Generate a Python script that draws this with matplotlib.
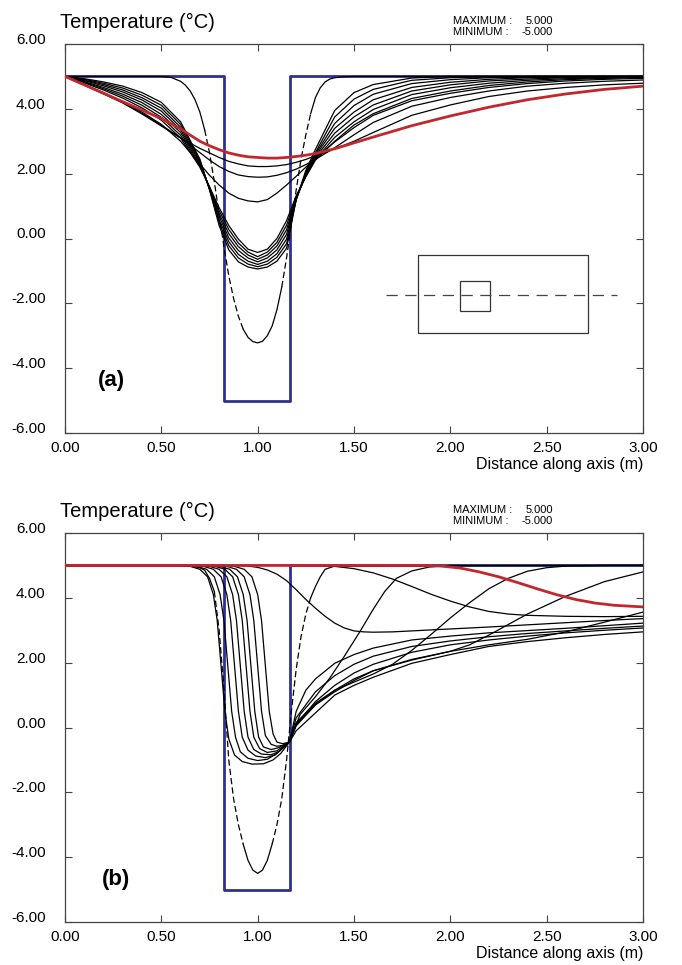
import matplotlib.pyplot as plt
from matplotlib.patches import Rectangle

plt.rcParams['font.family'] = ['Liberation Sans', 'DejaVu Sans']

# ---------------- panel (a) data ----------------
well_x = [0.0, 0.825, 0.825, 1.17, 1.17, 3.0]
well_y = [5.0, 5.0, -5.0, -5.0, 5.0, 5.0]

a_c1_x = [0, 0.5, 0.55, 0.6, 0.625, 0.65, 0.675, 0.7, 0.725, 0.75, 0.775, 0.8, 0.825, 0.85,
          0.875, 0.9, 0.925, 0.95, 0.975, 1.0, 1.025, 1.05, 1.075, 1.1, 1.125, 1.15, 1.175,
          1.2, 1.225, 1.25, 1.275, 1.3, 1.325, 1.35, 1.375, 1.4, 1.45, 1.5, 3.0]
a_c1_y = [5, 5, 4.97, 4.85, 4.73, 4.55, 4.28, 3.9, 3.35, 2.65, 1.75, 0.75, -0.25, -1.15,
          -1.85, -2.4, -2.8, -3.05, -3.18, -3.22, -3.17, -3.0, -2.7, -2.2, -1.5, -0.6, 0.45,
          1.5, 2.45, 3.2, 3.85, 4.35, 4.65, 4.83, 4.92, 4.96, 4.99, 5.0, 5.0]

xa = [0, 0.1, 0.2, 0.3, 0.4, 0.5, 0.6, 0.7, 0.75, 0.8, 0.85, 0.9, 0.95, 1.0, 1.05, 1.1,
      1.15, 1.2, 1.25, 1.3, 1.4, 1.5, 1.6, 1.8, 2.0, 2.2, 2.4, 2.6, 2.8, 3.0]

a_d1 = [5, 4.93, 4.83, 4.70, 4.50, 4.20, 3.60, 2.45, 1.50, 0.40, -0.35, -0.72, -0.88, -0.94,
        -0.88, -0.70, -0.30, 1.20, 2.10, 2.75, 3.95, 4.50, 4.75, 4.95, 5.0, 5.0, 5.0, 5.0, 5.0, 5.0]
a_d2 = [5, 4.91, 4.79, 4.64, 4.42, 4.11, 3.52, 2.41, 1.52, 0.49, -0.22, -0.60, -0.79, -0.87,
        -0.79, -0.58, -0.16, 1.20, 2.05, 2.65, 3.75, 4.30, 4.60, 4.88, 4.96, 4.99, 5.0, 5.0, 5.0, 5.0]
a_d3 = [5, 4.89, 4.75, 4.58, 4.34, 4.02, 3.43, 2.37, 1.53, 0.58, -0.10, -0.49, -0.70, -0.80,
        -0.70, -0.47, -0.02, 1.20, 2.00, 2.60, 3.55, 4.10, 4.45, 4.78, 4.90, 4.96, 4.98, 4.99, 5.0, 5.0]
a_d4 = [5, 4.87, 4.71, 4.52, 4.27, 3.93, 3.35, 2.33, 1.55, 0.68, 0.02, -0.37, -0.60, -0.72,
        -0.60, -0.35, 0.13, 1.22, 1.97, 2.55, 3.40, 3.90, 4.28, 4.66, 4.82, 4.91, 4.96, 4.98, 4.99, 5.0]
a_d5 = [5, 4.84, 4.66, 4.45, 4.19, 3.83, 3.27, 2.28, 1.57, 0.77, 0.15, -0.25, -0.51, -0.64,
        -0.51, -0.23, 0.27, 1.25, 1.95, 2.50, 3.25, 3.75, 4.12, 4.55, 4.74, 4.86, 4.92, 4.96, 4.98, 4.99]
a_d6 = [5, 4.82, 4.62, 4.39, 4.11, 3.74, 3.18, 2.24, 1.58, 0.86, 0.28, -0.14, -0.42, -0.56,
        -0.42, -0.12, 0.41, 1.28, 1.93, 2.45, 3.12, 3.60, 3.98, 4.44, 4.65, 4.79, 4.88, 4.93, 4.96, 4.98]
a_d7 = [5, 4.80, 4.58, 4.33, 4.03, 3.65, 3.10, 2.20, 1.60, 0.95, 0.40, -0.02, -0.33, -0.43,
        -0.33, 0.00, 0.55, 1.32, 1.90, 2.42, 3.00, 3.50, 3.85, 4.32, 4.55, 4.72, 4.83, 4.90, 4.94, 4.97]
a_e1 = [5, 4.75, 4.50, 4.22, 3.90, 3.52, 3.00, 2.30, 1.95, 1.65, 1.40, 1.24, 1.16, 1.13,
        1.20, 1.40, 1.65, 1.92, 2.20, 2.48, 2.98, 3.42, 3.80, 4.25, 4.48, 4.66, 4.78, 4.86, 4.91, 4.94]
a_e2 = [5, 4.74, 4.48, 4.20, 3.86, 3.50, 3.10, 2.65, 2.42, 2.22, 2.07, 1.96, 1.91, 1.89,
        1.90, 1.95, 2.03, 2.14, 2.28, 2.44, 2.80, 3.20, 3.58, 4.08, 4.35, 4.55, 4.70, 4.79, 4.85, 4.89]
a_e3 = [5, 4.73, 4.46, 4.18, 3.84, 3.47, 3.10, 2.78, 2.64, 2.50, 2.38, 2.30, 2.24, 2.22,
        2.22, 2.24, 2.28, 2.35, 2.44, 2.55, 2.76, 3.00, 3.27, 3.80, 4.12, 4.38, 4.55, 4.66, 4.74, 4.79]
a_final = [5, 4.74, 4.48, 4.22, 3.96, 3.70, 3.38, 3.00, 2.86, 2.74, 2.64, 2.57, 2.52, 2.50,
           2.48, 2.48, 2.50, 2.53, 2.57, 2.62, 2.77, 2.95, 3.13, 3.48, 3.78, 4.05, 4.28, 4.46, 4.60, 4.70]
a_black = [a_d1, a_d2, a_d3, a_d4, a_d5, a_d6, a_d7, a_e1, a_e2, a_e3]

# ---------------- panel (b) data ----------------
b_c1_x = [0, 0.6, 0.65, 0.7, 0.725, 0.75, 0.775, 0.8, 0.825, 0.85, 0.875, 0.9, 0.925, 0.95,
          0.975, 1.0, 1.025, 1.05, 1.075, 1.1, 1.125, 1.15, 1.175, 1.2, 1.225, 1.25, 1.275,
          1.3, 1.325, 1.35, 1.4, 3.0]
b_c1_y = [5, 5, 4.98, 4.93, 4.85, 4.6, 4.2, 3.0, 1.2, -1.0, -2.2, -3.0, -3.6, -4.1,
          -4.4, -4.5, -4.4, -4.1, -3.6, -3.0, -2.2, -1.0, 0.5, 1.8, 2.8, 3.5, 4.0,
          4.35, 4.65, 4.88, 4.98, 5.0]

b_f1_x = [0, 0.6, 0.65, 0.7, 0.74, 0.77, 0.79, 0.81, 0.83, 0.85, 0.88, 0.92, 0.97, 1.03, 1.08,
          1.12, 1.165, 1.22, 1.3, 1.375, 1.45, 1.53, 1.6, 1.66, 1.72, 1.8, 1.89, 2.0, 3.0]
b_f1_y = [5, 5, 4.97, 4.88, 4.65, 4.1, 3.3, 1.9, 0.5, -0.35, -0.85, -1.05, -1.13, -1.12, -1.0,
          -0.8, -0.45, 0.4, 0.95, 1.53, 2.2, 2.95, 3.65, 4.2, 4.6, 4.83, 4.95, 5.0, 5.0]
b_f2_x = [0, 0.635, 0.685, 0.735, 0.775, 0.805, 0.825, 0.845, 0.865, 0.885, 0.91, 0.95, 1.0,
          1.05, 1.1, 1.165, 1.2, 1.3, 1.4, 1.5, 1.6, 1.7, 1.8, 1.9, 2.0, 2.1, 2.2, 2.3, 2.4,
          2.5, 2.6, 2.8, 3.0]
b_f2_y = [5, 5, 4.97, 4.88, 4.65, 4.1, 3.3, 1.9, 0.5, -0.3, -0.75, -0.95, -1.02,
          -0.98, -0.8, -0.45, 0.15, 0.75, 1.15, 1.4, 1.65, 1.95, 2.38, 2.87, 3.38, 3.85, 4.28,
          4.6, 4.82, 4.93, 4.98, 5.0, 5.0]
b_f3_x = [0, 0.67, 0.72, 0.77, 0.81, 0.84, 0.86, 0.88, 0.9, 0.92, 0.95, 0.99, 1.04, 1.09,
          1.165, 1.2, 1.3, 1.4, 1.5, 1.6, 1.8, 2.0, 2.1, 2.2, 2.4, 2.6, 2.8, 3.0]
b_f3_y = [5, 5, 4.97, 4.88, 4.65, 4.1, 3.3, 1.9, 0.5, -0.3, -0.7, -0.88, -0.93, -0.85,
          -0.45, 0.1, 0.7, 1.1, 1.45, 1.75, 2.1, 2.35, 2.55, 2.85, 3.5, 4.05, 4.5, 4.8]
b_f4_x = [0, 0.7, 0.75, 0.8, 0.84, 0.87, 0.89, 0.91, 0.93, 0.95, 0.98, 1.02, 1.07, 1.11,
          1.165, 1.2, 1.3, 1.4, 1.5, 1.6, 1.8, 2.0, 2.2, 2.4, 2.6, 2.8, 3.0]
b_f4_y = [5, 5, 4.97, 4.88, 4.65, 4.1, 3.3, 1.9, 0.5, -0.3, -0.68, -0.82, -0.84, -0.74,
          -0.45, 0.05, 0.7, 1.15, 1.5, 1.75, 2.08, 2.35, 2.55, 2.72, 2.95, 3.25, 3.56]
b_f5_x = [0, 0.73, 0.78, 0.83, 0.87, 0.9, 0.92, 0.94, 0.96, 0.98, 1.01, 1.05, 1.1,
          1.165, 1.2, 1.25, 1.3, 1.4, 1.5, 1.6, 1.8, 2.0, 2.2, 2.4, 2.6, 2.8, 3.0]
b_f5_y = [5, 5, 4.97, 4.88, 4.65, 4.1, 3.3, 1.9, 0.5, -0.3, -0.65, -0.77, -0.72,
          -0.45, 0.5, 1.15, 1.5, 1.98, 2.25, 2.45, 2.7, 2.82, 2.92, 2.99, 3.06, 3.14, 3.22]
b_f6_x = [0, 0.755, 0.805, 0.855, 0.895, 0.925, 0.945, 0.965, 0.985, 1.005, 1.03, 1.07, 1.11,
          1.165, 1.2, 1.3, 1.4, 1.5, 1.6, 1.8, 2.0, 2.2, 2.4, 2.6, 2.8, 3.0]
b_f6_y = [5, 5, 4.97, 4.88, 4.65, 4.1, 3.3, 1.9, 0.5, -0.3, -0.6, -0.68, -0.62,
          -0.45, 0.3, 1.1, 1.6, 1.95, 2.2, 2.5, 2.67, 2.8, 2.9, 2.98, 3.06, 3.13]
b_f7_x = [0, 0.79, 0.84, 0.89, 0.93, 0.96, 0.98, 1.0, 1.02, 1.04, 1.07, 1.1, 1.13,
          1.165, 1.2, 1.3, 1.4, 1.5, 1.6, 1.8, 2.0, 2.2, 2.4, 2.6, 2.8, 3.0]
b_f7_y = [5, 5, 4.97, 4.88, 4.65, 4.1, 3.3, 1.9, 0.5, -0.25, -0.52, -0.58, -0.55,
          -0.45, 0.1, 0.8, 1.3, 1.68, 1.95, 2.32, 2.55, 2.7, 2.82, 2.92, 3.0, 3.07]
b_f8_x = [0, 0.83, 0.88, 0.93, 0.97, 1.0, 1.02, 1.04, 1.06, 1.08, 1.1, 1.13, 1.165,
          1.2, 1.3, 1.4, 1.5, 1.6, 1.8, 2.0, 2.2, 2.4, 2.6, 2.8, 3.0]
b_f8_y = [5, 5, 4.97, 4.88, 4.65, 4.1, 3.3, 1.9, 0.5, -0.2, -0.45, -0.5, -0.45,
          -0.1, 0.45, 1.0, 1.3, 1.55, 1.98, 2.25, 2.5, 2.65, 2.77, 2.87, 2.95]

b_x1_x = [0, 0.85, 0.95, 1.0, 1.05, 1.1, 1.15, 1.2, 1.25, 1.3, 1.35, 1.4, 1.45, 1.5, 1.55,
          1.6, 1.7, 1.8, 2.0, 2.2, 2.5, 2.8, 3.0]
b_x1_y = [5, 5, 4.98, 4.94, 4.86, 4.73, 4.53, 4.25, 3.95, 3.68, 3.43, 3.22, 3.07, 2.98, 2.95,
          2.94, 2.95, 2.98, 3.04, 3.1, 3.2, 3.3, 3.36]
b_x2_x = [0, 1.3, 1.4, 1.5, 1.6, 1.7, 1.8, 1.9, 2.0, 2.1, 2.2, 2.3, 2.4, 2.6, 2.8, 3.0]
b_x2_y = [5, 5, 4.97, 4.9, 4.77, 4.58, 4.35, 4.11, 3.9, 3.72, 3.58, 3.5, 3.46, 3.43, 3.42, 3.43]
b_final_x = [0, 1.85, 1.95, 2.05, 2.15, 2.25, 2.35, 2.45, 2.55, 2.65, 2.75, 2.85, 3.0]
b_final_y = [5, 5, 4.98, 4.92, 4.8, 4.65, 4.47, 4.28, 4.1, 3.95, 3.84, 3.77, 3.72]

b_black = [(b_f1_x, b_f1_y), (b_f2_x, b_f2_y), (b_f3_x, b_f3_y), (b_f4_x, b_f4_y),
           (b_f5_x, b_f5_y), (b_f6_x, b_f6_y), (b_f7_x, b_f7_y), (b_f8_x, b_f8_y),
           (b_x1_x, b_x1_y), (b_x2_x, b_x2_y)]

xticks = [0, 0.5, 1.0, 1.5, 2.0, 2.5, 3.0]
yticks = [6, 4, 2, 0, -2, -4, -6]

BLUE = '#2f3190'
RED = '#c1272d'
FRAME = '#444444'

W, H = 682, 965
fig = plt.figure(figsize=(W / 100, H / 100), dpi=100)
ax_a = fig.add_axes([65 / W, 1 - 433 / H, 578 / W, 389 / H])
ax_b = fig.add_axes([65 / W, 1 - 922 / H, 578 / W, 389 / H])


def style(ax, top_px, tag, tag_xy):
    ax.set_xlim(0, 3)
    ax.set_ylim(-6, 6)
    ax.set_xticks(xticks)
    ax.set_xticklabels(['%.2f' % v for v in xticks])
    ax.set_yticks(yticks)
    ax.set_yticklabels(['%.2f' % v for v in yticks])
    ax.tick_params(direction='in', length=5, width=0.8, top=True, right=True,
                   labelsize=11, color=FRAME, pad=6)
    ax.tick_params(axis='y', pad=14)
    for lab in ax.get_yticklabels():
        lab.set_va('baseline')
    for s in ax.spines.values():
        s.set_color(FRAME)
        s.set_linewidth(0.9)
    ax.text(tag_xy[0], tag_xy[1], tag, fontsize=16, fontweight='bold', ha='center', va='center')
    # header texts
    fig.text(60 / W, 1 - (top_px - 16) / H, 'Temperature (°C)', fontsize=14.5, va='baseline')
    fig.text(453 / W, 1 - (top_px - 20) / H, 'MAXIMUM :', fontsize=8, va='baseline')
    fig.text(553 / W, 1 - (top_px - 20) / H, '5.000', fontsize=8, va='baseline', ha='right')
    fig.text(453 / W, 1 - (top_px - 9) / H, 'MINIMUM :', fontsize=8, va='baseline')
    fig.text(553 / W, 1 - (top_px - 9) / H, '-5.000', fontsize=8, va='baseline', ha='right')
    fig.text(643 / W, 1 - (top_px + 425) / H, 'Distance along axis (m)', fontsize=11.5,
             va='baseline', ha='right')


def draw_first(ax, xs, ys, steep):
    # the first profile: steep flanks look broken (dashed) in the original plot
    cuts = [0] + steep + [len(xs) - 1]
    for i in range(len(cuts) - 1):
        seg_x = xs[cuts[i]:cuts[i + 1] + 1]
        seg_y = ys[cuts[i]:cuts[i + 1] + 1]
        if i % 2 == 1:
            ax.plot(seg_x, seg_y, color='black', lw=0.9, dashes=(5, 2.5), zorder=2)
        else:
            ax.plot(seg_x, seg_y, color='black', lw=0.9, zorder=2)


# panel (a)
ax_a.plot(well_x, well_y, color=BLUE, lw=2.0, zorder=1)
draw_first(ax_a, a_c1_x, a_c1_y, [8, 16, 24, 30])
for ys in a_black:
    ax_a.plot(xa, ys, color='black', lw=0.9, zorder=2)
ax_a.plot(xa, a_final, color=RED, lw=2.0, zorder=3)

# schematic inset (axes fraction)
ax_a.add_patch(Rectangle((0.611, 0.257), 0.294, 0.2, transform=ax_a.transAxes,
                         fill=False, ec='#333333', lw=0.9))
ax_a.add_patch(Rectangle(((460 - 65) / 578, (433 - 311) / 389), 30 / 578, 30 / 389,
                         transform=ax_a.transAxes, fill=False, ec='#333333', lw=0.9))
ax_a.plot([(386 - 65) / 578, (617 - 65) / 578], [(433 - 295) / 389] * 2,
          transform=ax_a.transAxes, color='#444444', lw=0.9, dashes=(9, 6))
style(ax_a, 44, '(a)', (0.24, -4.39))

# panel (b)
ax_b.plot(well_x, well_y, color=BLUE, lw=2.0, zorder=1)
draw_first(ax_b, b_c1_x, b_c1_y, [6, 12, 18, 26])
for xs, ys in b_black:
    ax_b.plot(xs, ys, color='black', lw=0.9, zorder=2)
ax_b.plot(b_final_x, b_final_y, color=RED, lw=2.0, zorder=3)
style(ax_b, 533, '(b)', (0.267, -4.7))

fig.savefig('out.png', dpi=100)
